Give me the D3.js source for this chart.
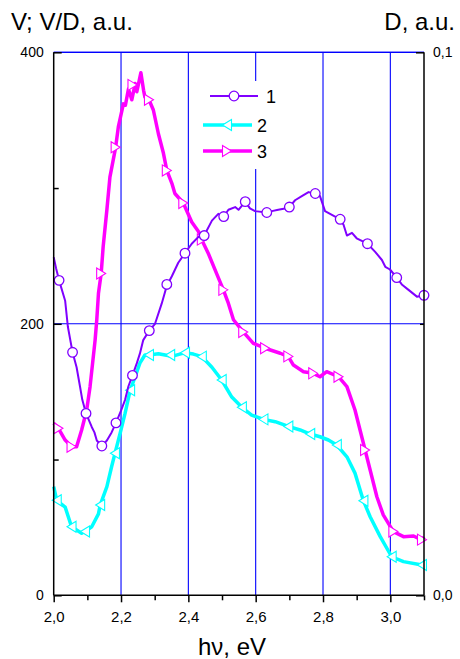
<!DOCTYPE html>
<html>
<head>
<meta charset="utf-8">
<script src="https://cdn.jsdelivr.net/npm/d3@7"></script>
<style>
  body { margin: 0; background: #fff; }
  svg text { font-family: "Liberation Sans", Arial, sans-serif; fill: #000; }
</style>
</head>
<body>
<svg id="chart" width="460" height="659"></svg>
<script>
// values: [h*nu (eV), signal (a.u.)]
const series1 = [
  [2.000, 249], [2.007, 241], [2.016, 232], [2.034, 217], [2.042, 198], [2.056, 179],
  [2.068, 168], [2.078, 154], [2.085, 144], [2.096, 134], [2.113, 124], [2.121, 120],
  [2.128, 114], [2.143, 110], [2.158, 114], [2.172, 120], [2.185, 127], [2.200, 136],
  [2.212, 144], [2.222, 154], [2.234, 162], [2.247, 171], [2.256, 178], [2.266, 188],
  [2.284, 195], [2.301, 200], [2.321, 215], [2.336, 228], [2.351, 235], [2.370, 245],
  [2.390, 252], [2.410, 259], [2.430, 264], [2.447, 265], [2.470, 276], [2.489, 281],
  [2.505, 279], [2.519, 284], [2.539, 286], [2.549, 284], [2.569, 290], [2.583, 285],
  [2.598, 283], [2.633, 282], [2.648, 283], [2.667, 284], [2.687, 285], [2.700, 286],
  [2.717, 291], [2.737, 294], [2.757, 297], [2.777, 296], [2.791, 294], [2.806, 283],
  [2.821, 281], [2.851, 277], [2.861, 273], [2.871, 265], [2.886, 267], [2.900, 263],
  [2.932, 259], [2.955, 253], [2.975, 247], [2.985, 242], [2.999, 240], [3.019, 234],
  [3.034, 229], [3.054, 225], [3.079, 220], [3.100, 221]
];
const markers1 = [
  [2.016, 232], [2.056, 179], [2.096, 134], [2.143, 110], [2.185, 127], [2.234, 162],
  [2.284, 195], [2.336, 229], [2.390, 252], [2.447, 265], [2.505, 279], [2.569, 290],
  [2.633, 282], [2.700, 286], [2.777, 296], [2.851, 277], [2.932, 259], [3.019, 234],
  [3.100, 221]
];

const series2 = [
  [2.000, 80], [2.009, 70], [2.034, 65], [2.053, 50.5], [2.083, 45.7], [2.093, 47],
  [2.113, 50.5], [2.133, 60], [2.138, 66.5], [2.158, 80], [2.172, 94.7], [2.182, 104.6],
  [2.197, 119], [2.212, 134], [2.227, 151], [2.242, 161], [2.256, 171], [2.271, 177],
  [2.283, 177], [2.311, 178], [2.331, 177], [2.351, 176], [2.380, 178], [2.390, 178.7],
  [2.415, 177.7], [2.440, 175.8], [2.470, 168], [2.499, 158.6], [2.529, 146], [2.559, 138.5],
  [2.588, 132.8], [2.623, 129.6], [2.658, 127.9], [2.697, 124.4], [2.732, 121.8], [2.762, 118.8],
  [2.791, 116.8], [2.816, 114.4], [2.841, 110.7], [2.871, 102], [2.895, 90], [2.920, 69.7],
  [2.940, 57.9], [2.970, 43.2], [3.004, 28.4], [3.039, 24.8], [3.094, 22.3], [3.100, 22.3]
];
const markers2 = [
  [2.009, 70], [2.053, 50.5], [2.093, 47], [2.138, 66.5], [2.182, 104.6], [2.227, 151],
  [2.283, 177], [2.346, 177], [2.390, 178.7], [2.440, 175.8], [2.499, 158.6], [2.559, 138.5],
  [2.623, 129.6], [2.697, 124.3], [2.762, 118.8], [2.841, 110.7], [2.920, 69.7], [3.004, 28.4],
  [3.094, 22.3]
];

const series3 = [
  [2.000, 126.7], [2.014, 123], [2.034, 114.4], [2.053, 109.5], [2.068, 109.5], [2.083, 121.8],
  [2.098, 136.5], [2.108, 153.7], [2.123, 188], [2.128, 203], [2.133, 222.5], [2.141, 237],
  [2.147, 257], [2.158, 284], [2.167, 308], [2.184, 330], [2.192, 345], [2.207, 362],
  [2.213, 361], [2.222, 373], [2.232, 365], [2.242, 377], [2.247, 371], [2.259, 385],
  [2.267, 372], [2.271, 367], [2.283, 365], [2.296, 357.5], [2.311, 340], [2.326, 325.6],
  [2.336, 313], [2.351, 303.5], [2.360, 296], [2.385, 289], [2.410, 275], [2.430, 268],
  [2.440, 261.7], [2.459, 252], [2.484, 237], [2.504, 225], [2.519, 215], [2.534, 203],
  [2.563, 194], [2.593, 185.6], [2.628, 182], [2.673, 178.3], [2.697, 175.8], [2.712, 169.6],
  [2.742, 164.7], [2.771, 163.5], [2.791, 161], [2.811, 164.7], [2.846, 161], [2.871, 153.7],
  [2.895, 136.5], [2.910, 121.8], [2.925, 107], [2.940, 92.3], [2.960, 72.6], [2.979, 59.2],
  [3.009, 46.9], [3.039, 43.2], [3.069, 43.7], [3.094, 40.7], [3.100, 43]
];
const markers3 = [
  [2.014, 123], [2.053, 109.5], [2.141, 237], [2.184, 330], [2.234, 376], [2.283, 365],
  [2.336, 313], [2.385, 289], [2.440, 262], [2.504, 225], [2.563, 194], [2.628, 182],
  [2.697, 176], [2.771, 163.5], [2.846, 161], [2.925, 107], [3.009, 47], [3.094, 41]
];

const xMajor = [2.0, 2.2, 2.4, 2.6, 2.8, 3.0];
const xMinor = [2.1, 2.3, 2.5, 2.7, 2.9, 3.1];
const xGrid = [2.2, 2.4, 2.6, 2.8, 3.0];
const yMajor = [0, 200, 400];
const yMinor = [100, 300];
const yRightMajor = [0, 0.1];
const yRightMinor = [0.05];
const legendLabels = ["1", "2", "3"];

const svg = d3.select("#chart");
const x = d3.scaleLinear().domain([2.0, 3.1]).range([53.7, 424]);
const y = d3.scaleLinear().domain([0, 400]).range([595.3, 52.3]);
const yR = d3.scaleLinear().domain([0, 0.1]).range([595.3, 52.3]);
const comma = d => d3.format(".1f")(d).replace(".", ",");

// grid
svg.append("g").selectAll("line").data(xGrid).join("line")
  .attr("x1", d => x(d)).attr("x2", d => x(d))
  .attr("y1", y(0)).attr("y2", y(400))
  .attr("stroke", "#0000ff").attr("stroke-width", 1.1);
svg.append("g").selectAll("line").data([200, 400]).join("line")
  .attr("x1", x(2.0)).attr("x2", x(3.1))
  .attr("y1", d => y(d)).attr("y2", d => y(d))
  .attr("stroke", "#0000ff").attr("stroke-width", 1.1);

const line = d3.line().x(d => x(d[0])).y(d => y(d[1]));
const tri = (dir, w, h) => dir < 0
  ? `M${-w / 2},0L${w / 2},${-h / 2}L${w / 2},${h / 2}Z`
  : `M${w / 2},0L${-w / 2},${-h / 2}L${-w / 2},${h / 2}Z`;

const styles = [
  { data: series1, marks: markers1, color: "#8000ff", width: 2, mark: "circle" },
  { data: series2, marks: markers2, color: "#00ffff", width: 3.5, mark: "left" },
  { data: series3, marks: markers3, color: "#ff00ff", width: 3.5, mark: "right" }
];

function drawMarker(g, s) {
  if (s.mark === "circle") {
    g.append("circle").attr("r", 4.8)
      .attr("fill", "#fff").attr("stroke", s.color).attr("stroke-width", 1.3);
  } else {
    g.append("path").attr("d", tri(s.mark === "left" ? -1 : 1, 9, 11))
      .attr("fill", "#fff").attr("stroke", s.color).attr("stroke-width", 1.1);
  }
}

// draw magenta and cyan first, purple on top
[styles[2], styles[1], styles[0]].forEach(s => {
  svg.append("path").datum(s.data)
    .attr("fill", "none").attr("stroke", s.color)
    .attr("stroke-width", s.width).attr("stroke-linejoin", "round")
    .attr("d", line);
  s.marks.forEach(m => {
    const g = svg.append("g").attr("transform", `translate(${x(m[0])},${y(m[1])})`);
    drawMarker(g, s);
  });
});

// legend
const legend = svg.append("g");
legend.append("rect").attr("x", 196).attr("y", 81).attr("width", 94).attr("height", 88).attr("fill", "#fff");
const legendPos = [
  { x1: 210, x2: 258, y: 96, mx: 234, tx: 266 },
  { x1: 203, x2: 252, y: 125, mx: 227, tx: 257 },
  { x1: 203, x2: 252, y: 151, mx: 227, tx: 257 }
];
styles.forEach((s, i) => {
  const p = legendPos[i];
  legend.append("line").attr("x1", p.x1).attr("x2", p.x2).attr("y1", p.y).attr("y2", p.y)
    .attr("stroke", s.color).attr("stroke-width", s.width === 2 ? 2 : 3.5);
  drawMarker(legend.append("g").attr("transform", `translate(${p.mx},${p.y})`), s);
  legend.append("text").attr("x", p.tx).attr("y", p.y + 6.5)
    .attr("font-size", 18).text(legendLabels[i]);
});

// frame
svg.append("line").attr("x1", x(2.0)).attr("x2", x(3.1)).attr("y1", y(400)).attr("y2", y(400))
  .attr("stroke", "#0000ff").attr("stroke-width", 1.3);
svg.append("line").attr("x1", x(2.0)).attr("x2", x(3.1)).attr("y1", y(0)).attr("y2", y(0))
  .attr("stroke", "#000").attr("stroke-width", 1.5);
svg.append("line").attr("x1", x(2.0)).attr("x2", x(2.0)).attr("y1", y(0)).attr("y2", y(400))
  .attr("stroke", "#000").attr("stroke-width", 1.5);
svg.append("line").attr("x1", x(3.1)).attr("x2", x(3.1)).attr("y1", y(0)).attr("y2", y(400))
  .attr("stroke", "#000").attr("stroke-width", 1.5);

function styleAxis(g, size) {
  g.select(".domain").remove();
  g.selectAll(".tick line").attr("stroke", "#000").attr("stroke-width", 1.5);
  g.selectAll(".tick text").attr("font-size", size).attr("font-family", null);
}

svg.append("g").attr("transform", `translate(${x(2.0)},0)`)
  .call(d3.axisLeft(y).tickValues(yMajor).tickSize(-8).tickPadding(10).tickFormat(d3.format("d")))
  .call(g => styleAxis(g, 14));
svg.append("g").attr("transform", `translate(${x(2.0)},0)`)
  .call(d3.axisLeft(y).tickValues(yMinor).tickSize(-5).tickFormat(""))
  .call(g => styleAxis(g, 14));
svg.append("g").attr("transform", `translate(${x(3.1)},0)`)
  .call(d3.axisRight(yR).tickValues(yRightMajor).tickSize(-8).tickPadding(9).tickFormat(comma))
  .call(g => styleAxis(g, 14));
svg.append("g").attr("transform", `translate(${x(3.1)},0)`)
  .call(d3.axisRight(yR).tickValues(yRightMinor).tickSize(-4).tickFormat(""))
  .call(g => styleAxis(g, 14));
svg.append("g").attr("transform", `translate(0,${y(0)})`)
  .call(d3.axisBottom(x).tickValues(xMajor).tickSize(7).tickPadding(9).tickFormat(comma))
  .call(g => styleAxis(g, 15));
svg.append("g").attr("transform", `translate(0,${y(0)})`)
  .call(d3.axisBottom(x).tickValues(xMinor).tickSize(5).tickFormat(""))
  .call(g => styleAxis(g, 15));

// titles
svg.append("text").attr("x", 11).attr("y", 30).attr("font-size", 24).text("V; V/D, a.u.");
svg.append("text").attr("x", 455).attr("y", 30).attr("font-size", 24)
  .attr("text-anchor", "end").text("D, a.u.");
svg.append("text").attr("x", 232).attr("y", 655).attr("font-size", 24)
  .attr("text-anchor", "middle").text("hν, eV");
</script>
</body>
</html>
